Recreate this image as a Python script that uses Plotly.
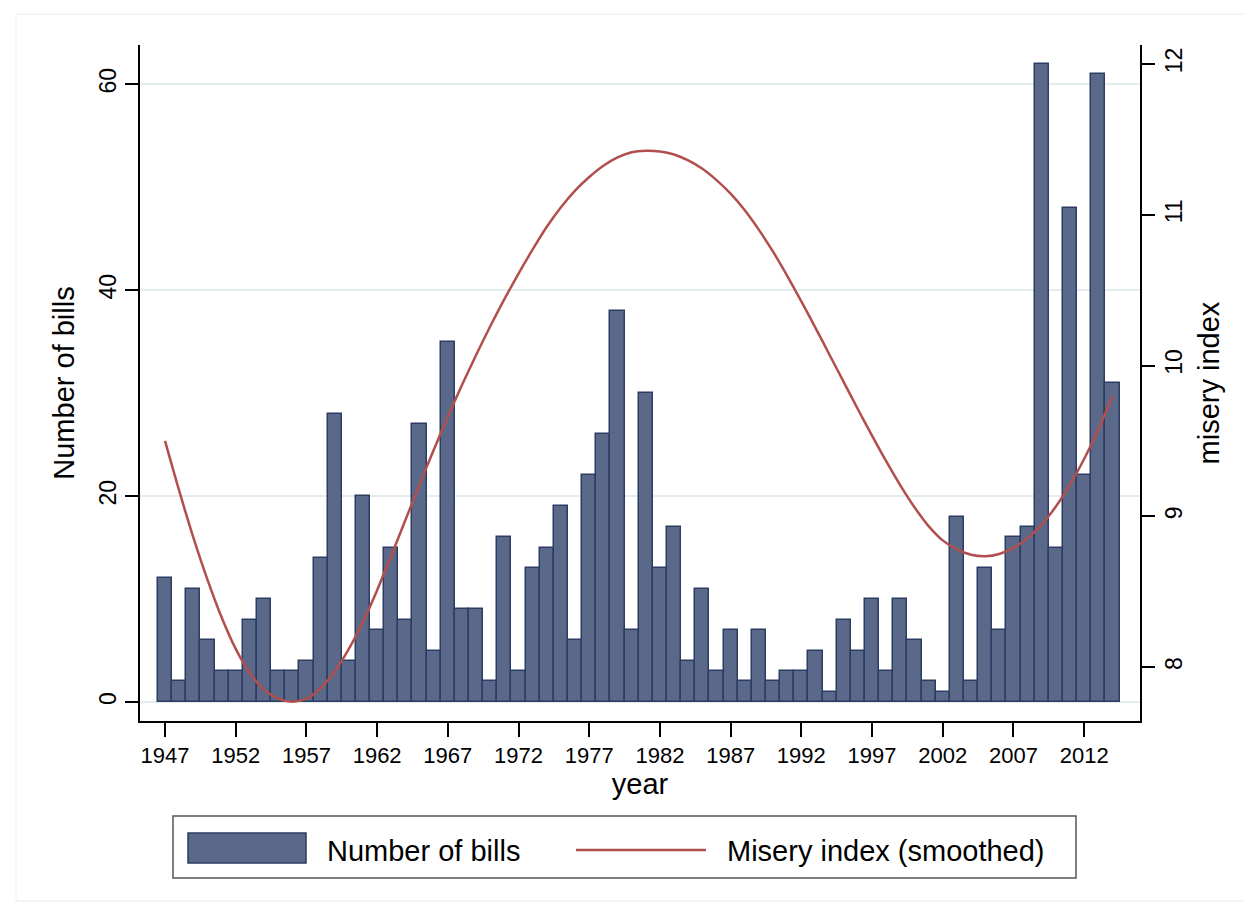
import plotly.graph_objects as go

years = list(range(1947, 2015))

bills = [12, 2, 11, 6, 3, 3, 8, 10, 3, 3,
         4, 14, 28, 4, 20, 7, 15, 8, 27, 5,
         35, 9, 9, 2, 16, 3, 13, 15, 19, 6,
         22, 26, 38, 7, 30, 13, 17, 4, 11, 3,
         7, 2, 7, 2, 3, 3, 5, 1, 8, 5,
         10, 3, 10, 6, 2, 1, 18, 2, 13, 7,
         16, 17, 62, 15, 48, 22, 61, 31]

misery_smoothed = [9.50, 9.17, 8.86, 8.58, 8.33, 8.12, 7.96, 7.85, 7.79, 7.77,
                   7.79, 7.86, 7.97, 8.12, 8.30, 8.51, 8.74, 8.975, 9.21, 9.44,
                   9.66, 9.87, 10.07, 10.26, 10.44, 10.61, 10.77, 10.92, 11.05, 11.16,
                   11.25, 11.325, 11.38, 11.415, 11.425, 11.42, 11.40, 11.36, 11.305, 11.23,
                   11.14, 11.03, 10.90, 10.755, 10.595, 10.425, 10.25, 10.07, 9.89, 9.71,
                   9.535, 9.365, 9.205, 9.06, 8.935, 8.84, 8.78, 8.745, 8.735, 8.75,
                   8.79, 8.855, 8.945, 9.065, 9.21, 9.38, 9.575, 9.80]

x_ticks = list(range(1947, 2013, 5))
y_ticks = [0, 20, 40, 60]
y2_ticks = [8, 9, 10, 11, 12]

FONT = "Liberation Sans, Arial, Helvetica, sans-serif"
BAR_FILL = "#5a6989"
BAR_EDGE = "#2c3c62"
LINE_COL = "#b14f4e"

fig = go.Figure()
fig.add_trace(go.Bar(x=years, y=bills, width=1.0, name="Number of bills",
                     marker=dict(color=BAR_FILL, line=dict(color=BAR_EDGE, width=1.5)),
                     showlegend=False, yaxis="y"))
fig.add_trace(go.Scatter(x=years, y=misery_smoothed, mode="lines", name="Misery index (smoothed)",
                         line=dict(color=LINE_COL, width=2.5, shape="spline", smoothing=0.8),
                         showlegend=False, yaxis="y2"))

# plot area: x 132..1132, y 37..713
W, H = 1252, 907
L, R, T, B = 132, 1132, 37, 713

def px(x):
    return (x - L) / (R - L)

def py(y):
    return (B - y) / (B - T)

shapes = [
    # legend box
    dict(type="rect", xref="paper", yref="paper", x0=px(165), x1=px(1068), y0=py(870), y1=py(808),
         line=dict(color="#555555", width=1.5), fillcolor="white", layer="above"),
    # bar swatch
    dict(type="rect", xref="paper", yref="paper", x0=px(180), x1=px(298), y0=py(855), y1=py(825),
         line=dict(color=BAR_EDGE, width=1.5), fillcolor=BAR_FILL, layer="above"),
    # line swatch
    dict(type="line", xref="paper", yref="paper", x0=px(568), x1=px(698), y0=py(842), y1=py(842),
         line=dict(color=LINE_COL, width=2.5), layer="above"),
    # outer graph region frame
    dict(type="rect", xref="paper", yref="paper", x0=px(8), x1=px(1244), y0=py(893), y1=py(6),
         line=dict(color="#ececec", width=1), layer="below"),
]

annotations = [
    dict(text="Number of bills", xref="paper", yref="paper", x=px(317), y=py(843),
         xanchor="left", yanchor="middle", showarrow=False, font=dict(size=29, color="black", family=FONT)),
    dict(text="Misery index (smoothed)", xref="paper", yref="paper", x=px(717), y=py(843),
         xanchor="left", yanchor="middle", showarrow=False, font=dict(size=29, color="black", family=FONT)),
]

fig.update_layout(
    width=W, height=H,
    margin=dict(l=L, r=W - R, t=T, b=H - B, pad=0),
    paper_bgcolor="white", plot_bgcolor="white",
    font=dict(family=FONT, color="black"),
    bargap=0,
    showlegend=False,
    shapes=shapes,
    annotations=annotations,
    xaxis=dict(range=[1945.23, 2015.95], tickvals=x_ticks, ticks="outside", ticklen=14,
               tickwidth=1.5, tickcolor="black", showline=True, linecolor="black", linewidth=1.5,
               showgrid=False, zeroline=False, tickfont=dict(size=22, family=FONT),
               title=dict(text="year", font=dict(size=29, family=FONT), standoff=2)),
    yaxis=dict(range=[-1.84, 63.8], tickvals=y_ticks, ticks="outside", ticklen=13,
               tickwidth=1.5, tickcolor="black", showline=True, linecolor="black", linewidth=1.5,
               showgrid=True, gridcolor="#e4eded", gridwidth=1.5, zeroline=False,
               tickangle=-90, tickfont=dict(size=23, family=FONT),
               title=dict(text="Number of bills", font=dict(size=29, family=FONT), standoff=12)),
    yaxis2=dict(range=[7.642, 12.126], tickvals=y2_ticks, overlaying="y", side="right",
                ticks="outside", ticklen=13, tickwidth=1.5, tickcolor="black",
                showline=True, linecolor="black", linewidth=1.5, showgrid=False, zeroline=False,
                tickangle=-90, tickfont=dict(size=23, family=FONT),
                title=dict(text="misery index", font=dict(size=29, family=FONT), standoff=12)),
)

fig.write_html("out.html")
